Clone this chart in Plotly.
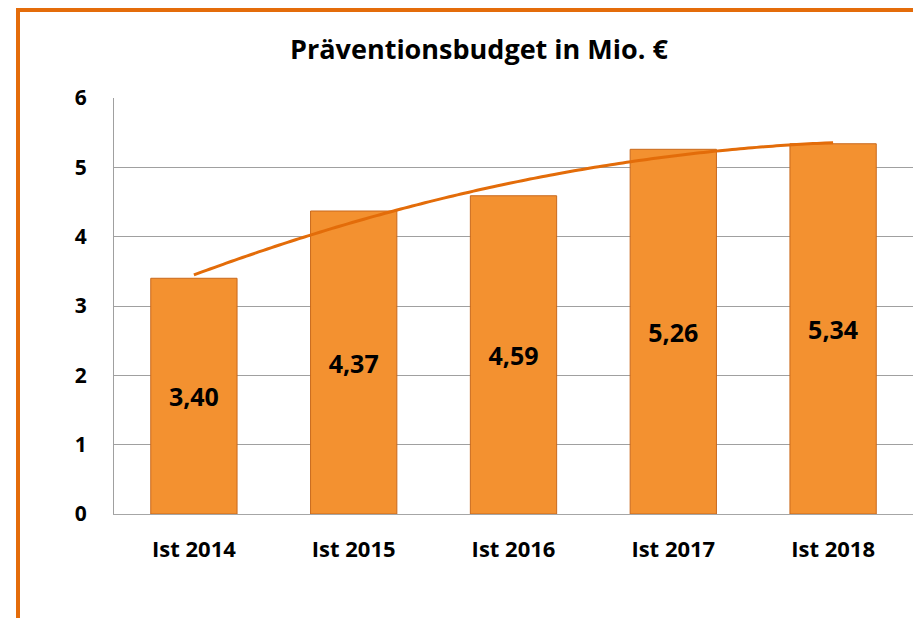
import numpy as np
import plotly.graph_objects as go

categories = ["Ist 2014", "Ist 2015", "Ist 2016", "Ist 2017", "Ist 2018"]
values = [3.40, 4.37, 4.59, 5.26, 5.34]
y_ticks = [0, 1, 2, 3, 4, 5, 6]
title_text = "Präventionsbudget in Mio. €"

x_pos = np.arange(len(categories))
coef = np.polyfit(x_pos, values, 2)
x_fine = np.linspace(x_pos[0], x_pos[-1], 80)
y_fine = np.polyval(coef, x_fine)

FONT = "Open Sans"
W, H = 921, 618
L, R, T, B = 106, 16, 90, 112
PW, PH = W - L - R, H - T - B

fig = go.Figure()
fig.add_trace(go.Bar(
    x=x_pos, y=values, width=0.54,
    marker=dict(color="#F39130", line=dict(color="#C9691C", width=1)),
    texttemplate="%{y:.2f}", textposition="inside", insidetextanchor="middle",
    textfont=dict(family=FONT, size=25, color="#000000", weight="bold"),
    hoverinfo="skip",
))
fig.add_trace(go.Scatter(
    x=x_fine, y=y_fine, mode="lines",
    line=dict(color="#E36C09", width=3, shape="spline"),
    hoverinfo="skip",
))

fig.update_layout(
    width=W, height=H,
    margin=dict(l=L, r=R, t=T, b=B),
    paper_bgcolor="white", plot_bgcolor="white",
    showlegend=False,
    separators=",.",
    title=dict(text=title_text, x=471 / W, xanchor="center",
               y=1 - 42 / H, yanchor="middle",
               font=dict(family=FONT, size=27, color="#000000", weight="bold")),
    xaxis=dict(range=[-0.5, 4.5], tickvals=list(x_pos), ticktext=categories,
               showgrid=False, zeroline=False, showline=True, linecolor="#A6A6A6", linewidth=1,
               ticks="", ticklabelstandoff=16,
               tickfont=dict(family=FONT, size=22, color="#000000", weight="bold")),
    yaxis=dict(range=[0, 6], tickvals=y_ticks, showgrid=True, gridcolor="#A0A0A0", gridwidth=1,
               zeroline=False, showline=True, linecolor="#A0A0A0", linewidth=1,
               ticks="", ticklabelstandoff=22,
               tickfont=dict(family=FONT, size=21, color="#000000", weight="bold")),
    shapes=[dict(type="path", xref="paper", yref="paper",
                 path=f"M {-96 / PW},-0.6 L {-96 / PW},{1 + 88 / PH} L 1.2,{1 + 88 / PH}",
                 line=dict(color="#E46C0A", width=4), layer="above")],
)

fig.write_html("out.html")
